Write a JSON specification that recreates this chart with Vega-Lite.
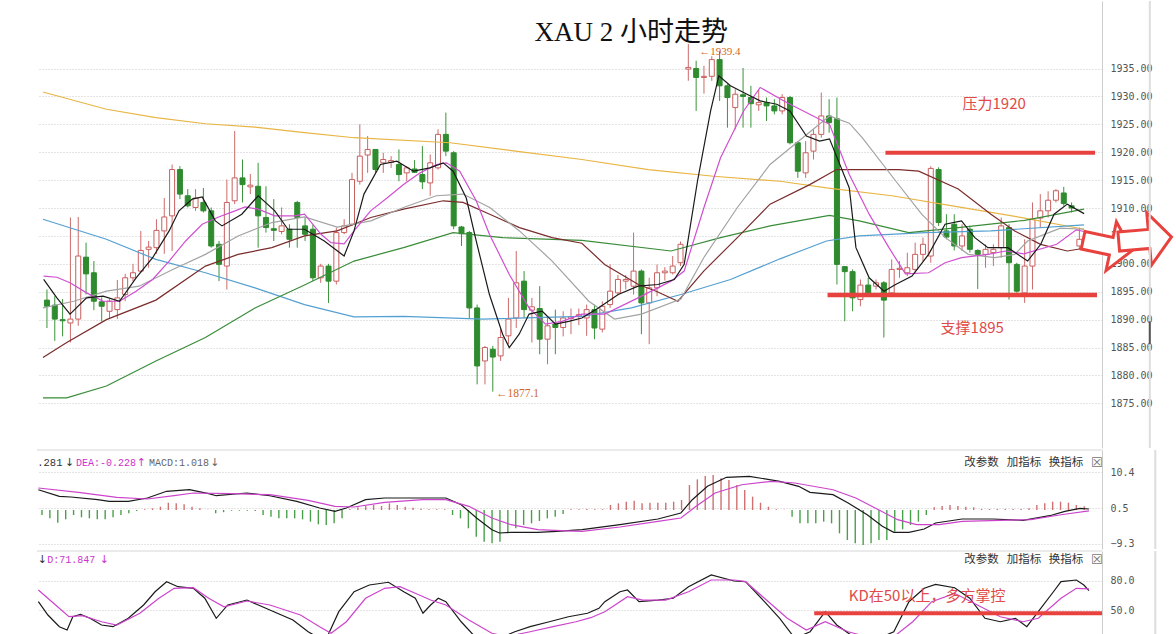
{
"$schema":"https://vega.github.io/schema/vega-lite/v6.json",
"padding":{"left":35,"top":0,"right":0,"bottom":0},
"spacing":0,
"background":"white",
"resolve":{"scale":{"color":"independent","strokeWidth":"independent"}},
"config":{"view":{"stroke":null},"axis":{"domainColor":"#cccccc","ticks":false,"labelOverlap":false,"labelFont":"DejaVu Sans Mono","labelFontSize":10,"labelColor":"#555555","labelPadding":8,"gridColor":"#c8c8c8","gridDash":[1,2],"gridWidth":1}},
"datasets":{
"one":[{}],
"candles":[
{"i":0,"o":1893.5,"h":1895.4,"l":1888.5,"c":1892.4},{"i":1,"o":1892.6,"h":1894.2,"l":1886.2,"c":1890.1},{"i":2,"o":1890.0,"h":1893.7,"l":1887.0,"c":1889.8},{"i":3,"o":1889.4,"h":1908.3,"l":1885.9,"c":1890.1},{"i":4,"o":1890.1,"h":1908.4,"l":1888.9,"c":1901.4},{"i":5,"o":1901.2,"h":1903.8,"l":1894.5,"c":1898.2},{"i":6,"o":1898.4,"h":1900.5,"l":1891.7,"c":1893.3},{"i":7,"o":1893.2,"h":1894.0,"l":1889.7,"c":1892.4},{"i":8,"o":1891.5,"h":1893.7,"l":1890.3,"c":1893.3},{"i":9,"o":1891.8,"h":1897.1,"l":1890.1,"c":1893.9},
{"i":10,"o":1894.5,"h":1898.2,"l":1893.3,"c":1897.5},{"i":11,"o":1897.5,"h":1900.0,"l":1896.9,"c":1898.4},{"i":12,"o":1898.7,"h":1905.9,"l":1898.4,"c":1902.4},{"i":13,"o":1902.6,"h":1904.1,"l":1899.3,"c":1903.0},{"i":14,"o":1902.9,"h":1908.0,"l":1901.8,"c":1906.0},{"i":15,"o":1905.9,"h":1911.8,"l":1901.8,"c":1908.4},{"i":16,"o":1908.6,"h":1917.8,"l":1902.3,"c":1916.9},{"i":17,"o":1916.9,"h":1917.5,"l":1911.6,"c":1912.5},{"i":18,"o":1912.2,"h":1913.4,"l":1910.1,"c":1910.4},{"i":19,"o":1910.1,"h":1913.4,"l":1909.5,"c":1911.8},
{"i":20,"o":1911.0,"h":1913.6,"l":1909.2,"c":1909.5},{"i":21,"o":1909.5,"h":1910.1,"l":1902.9,"c":1903.2},{"i":22,"o":1903.5,"h":1904.1,"l":1896.9,"c":1899.9},{"i":23,"o":1899.6,"h":1915.1,"l":1895.4,"c":1911.0},{"i":24,"o":1911.3,"h":1923.8,"l":1910.7,"c":1915.4},{"i":25,"o":1915.4,"h":1918.7,"l":1911.0,"c":1914.2},{"i":26,"o":1913.8,"h":1916.1,"l":1912.5,"c":1914.1},{"i":27,"o":1913.9,"h":1918.1,"l":1902.9,"c":1908.6},{"i":28,"o":1908.3,"h":1913.9,"l":1905.6,"c":1906.5},{"i":29,"o":1906.3,"h":1911.6,"l":1904.1,"c":1906.0},
{"i":30,"o":1905.8,"h":1910.1,"l":1905.3,"c":1906.8},{"i":31,"o":1906.2,"h":1907.1,"l":1902.9,"c":1904.4},{"i":32,"o":1911.0,"h":1911.3,"l":1902.9,"c":1908.3},{"i":33,"o":1906.8,"h":1908.3,"l":1904.1,"c":1905.3},{"i":34,"o":1906.2,"h":1907.0,"l":1896.9,"c":1897.5},{"i":35,"o":1897.5,"h":1900.0,"l":1896.6,"c":1899.6},{"i":36,"o":1899.6,"h":1900.0,"l":1893.0,"c":1896.9},{"i":37,"o":1896.9,"h":1906.5,"l":1896.3,"c":1905.6},{"i":38,"o":1905.6,"h":1908.0,"l":1905.3,"c":1906.8},{"i":39,"o":1907.1,"h":1916.3,"l":1906.8,"c":1915.1},
{"i":40,"o":1914.8,"h":1925.0,"l":1914.2,"c":1919.3},{"i":41,"o":1919.5,"h":1922.9,"l":1916.3,"c":1920.5},{"i":42,"o":1920.5,"h":1920.5,"l":1916.3,"c":1916.9},{"i":43,"o":1918.1,"h":1919.9,"l":1916.3,"c":1918.7},{"i":44,"o":1918.2,"h":1919.3,"l":1917.2,"c":1918.5},{"i":45,"o":1917.8,"h":1920.5,"l":1914.8,"c":1916.0},{"i":46,"o":1916.3,"h":1917.5,"l":1914.8,"c":1917.2},{"i":47,"o":1917.0,"h":1918.6,"l":1916.3,"c":1916.4},{"i":48,"o":1916.0,"h":1921.1,"l":1913.4,"c":1914.7},{"i":49,"o":1914.5,"h":1919.6,"l":1912.2,"c":1918.1},
{"i":50,"o":1917.2,"h":1924.1,"l":1916.9,"c":1923.2},{"i":51,"o":1923.2,"h":1927.1,"l":1919.3,"c":1920.2},{"i":52,"o":1919.9,"h":1920.2,"l":1906.2,"c":1906.8},{"i":53,"o":1906.6,"h":1906.8,"l":1903.2,"c":1905.4},{"i":54,"o":1905.6,"h":1905.9,"l":1890.3,"c":1892.1},{"i":55,"o":1892.1,"h":1892.7,"l":1878.4,"c":1881.7},{"i":56,"o":1882.6,"h":1885.3,"l":1878.4,"c":1885.0},{"i":57,"o":1884.7,"h":1885.3,"l":1877.1,"c":1883.3},{"i":58,"o":1883.5,"h":1888.3,"l":1882.6,"c":1886.8},{"i":59,"o":1887.1,"h":1893.9,"l":1885.6,"c":1890.1},
{"i":60,"o":1890.3,"h":1902.3,"l":1888.5,"c":1896.6},{"i":61,"o":1896.9,"h":1898.7,"l":1890.3,"c":1891.8},{"i":62,"o":1891.7,"h":1893.9,"l":1885.9,"c":1892.3},{"i":63,"o":1892.0,"h":1896.0,"l":1883.8,"c":1886.5},{"i":64,"o":1886.5,"h":1890.3,"l":1882.0,"c":1888.9},{"i":65,"o":1889.2,"h":1891.8,"l":1883.8,"c":1888.6},{"i":66,"o":1888.6,"h":1891.5,"l":1887.0,"c":1890.3},{"i":67,"o":1890.2,"h":1892.0,"l":1887.4,"c":1890.5},{"i":68,"o":1890.6,"h":1892.0,"l":1889.0,"c":1890.9},{"i":69,"o":1890.3,"h":1892.7,"l":1887.1,"c":1891.8},
{"i":70,"o":1891.8,"h":1892.7,"l":1886.5,"c":1888.5},{"i":71,"o":1888.3,"h":1893.3,"l":1887.7,"c":1892.4},{"i":72,"o":1892.7,"h":1899.9,"l":1892.1,"c":1895.1},{"i":73,"o":1894.8,"h":1898.0,"l":1894.5,"c":1897.2},{"i":74,"o":1896.9,"h":1898.0,"l":1895.4,"c":1897.2},{"i":75,"o":1896.0,"h":1905.6,"l":1894.5,"c":1898.7},{"i":76,"o":1898.7,"h":1899.0,"l":1887.4,"c":1893.0},{"i":77,"o":1893.0,"h":1897.5,"l":1885.6,"c":1895.7},{"i":78,"o":1895.7,"h":1899.9,"l":1894.2,"c":1898.4},{"i":79,"o":1898.4,"h":1899.4,"l":1897.0,"c":1898.7},
{"i":80,"o":1898.4,"h":1901.4,"l":1898.1,"c":1899.6},{"i":81,"o":1900.2,"h":1904.0,"l":1899.6,"c":1903.5},{"i":82,"o":1934.9,"h":1939.4,"l":1932.8,"c":1935.2},{"i":83,"o":1935.0,"h":1936.4,"l":1927.4,"c":1933.4},{"i":84,"o":1933.4,"h":1935.5,"l":1930.5,"c":1933.6},{"i":85,"o":1933.6,"h":1937.2,"l":1932.8,"c":1936.6},{"i":86,"o":1936.6,"h":1938.1,"l":1929.2,"c":1931.9},{"i":87,"o":1931.9,"h":1932.2,"l":1924.4,"c":1929.8},{"i":88,"o":1928.0,"h":1931.3,"l":1924.1,"c":1930.4},{"i":89,"o":1930.3,"h":1935.1,"l":1924.4,"c":1930.0},
{"i":90,"o":1929.8,"h":1931.9,"l":1924.4,"c":1928.7},{"i":91,"o":1928.5,"h":1931.3,"l":1927.4,"c":1928.9},{"i":92,"o":1928.9,"h":1929.8,"l":1925.6,"c":1928.3},{"i":93,"o":1928.3,"h":1929.5,"l":1926.8,"c":1927.4},{"i":94,"o":1927.4,"h":1930.4,"l":1926.8,"c":1929.8},{"i":95,"o":1929.8,"h":1930.1,"l":1921.4,"c":1921.7},{"i":96,"o":1921.7,"h":1922.0,"l":1915.4,"c":1916.6},{"i":97,"o":1916.3,"h":1922.0,"l":1915.4,"c":1919.9},{"i":98,"o":1920.2,"h":1924.1,"l":1918.7,"c":1923.2},{"i":99,"o":1923.2,"h":1930.7,"l":1922.6,"c":1926.5},
{"i":100,"o":1926.5,"h":1929.5,"l":1923.5,"c":1925.3},{"i":101,"o":1926.0,"h":1929.8,"l":1896.3,"c":1899.9},{"i":102,"o":1899.5,"h":1899.6,"l":1889.7,"c":1898.6},{"i":103,"o":1898.6,"h":1899.0,"l":1891.5,"c":1893.9},{"i":104,"o":1893.6,"h":1897.2,"l":1892.4,"c":1896.2},{"i":105,"o":1896.2,"h":1897.5,"l":1894.1,"c":1894.8},{"i":106,"o":1896.0,"h":1897.2,"l":1895.4,"c":1896.6},{"i":107,"o":1896.6,"h":1896.9,"l":1886.8,"c":1893.5},{"i":108,"o":1894.8,"h":1900.8,"l":1894.5,"c":1899.0},{"i":109,"o":1899.0,"h":1900.5,"l":1897.5,"c":1899.2},
{"i":110,"o":1898.4,"h":1902.0,"l":1897.8,"c":1899.3},{"i":111,"o":1899.0,"h":1903.8,"l":1898.4,"c":1901.7},{"i":112,"o":1901.7,"h":1904.7,"l":1900.5,"c":1903.5},{"i":113,"o":1901.4,"h":1917.5,"l":1900.2,"c":1917.1},{"i":114,"o":1916.9,"h":1917.3,"l":1906.8,"c":1907.4},{"i":115,"o":1905.9,"h":1908.9,"l":1904.4,"c":1904.8},{"i":116,"o":1907.1,"h":1908.9,"l":1902.4,"c":1903.2},{"i":117,"o":1903.2,"h":1907.1,"l":1902.3,"c":1905.0},{"i":118,"o":1906.2,"h":1906.8,"l":1902.0,"c":1902.6},{"i":119,"o":1902.4,"h":1902.6,"l":1895.5,"c":1901.7},
{"i":120,"o":1901.7,"h":1903.5,"l":1899.3,"c":1902.6},{"i":121,"o":1902.0,"h":1903.5,"l":1899.6,"c":1902.6},{"i":122,"o":1902.9,"h":1908.3,"l":1901.1,"c":1906.8},{"i":123,"o":1906.5,"h":1907.1,"l":1893.6,"c":1900.2},{"i":124,"o":1899.9,"h":1900.2,"l":1894.8,"c":1895.1},{"i":125,"o":1894.8,"h":1904.4,"l":1893.0,"c":1899.6},{"i":126,"o":1899.6,"h":1911.0,"l":1895.4,"c":1908.0},{"i":127,"o":1908.2,"h":1912.5,"l":1906.5,"c":1909.5},{"i":128,"o":1909.5,"h":1913.0,"l":1908.3,"c":1911.4},{"i":129,"o":1911.4,"h":1913.4,"l":1911.0,"c":1913.1},
{"i":130,"o":1912.7,"h":1913.8,"l":1910.4,"c":1910.8},{"i":131,"o":1910.4,"h":1911.0,"l":1909.2,"c":1910.0},{"i":132,"o":1903.2,"h":1906.5,"l":1902.6,"c":1904.4}
],
"ma":[
{"s":"MA250","i":-0.51,"v":1930.8},{"s":"MA250","i":7.6,"v":1927.7},{"s":"MA250","i":13.93,"v":1926.2},{"s":"MA250","i":20.26,"v":1925.1},{"s":"MA250","i":26.6,"v":1924.5},{"s":"MA250","i":32.93,"v":1923.5},{"s":"MA250","i":39.26,"v":1922.6},{"s":"MA250","i":51.55,"v":1921.7},{"s":"MA250","i":59.9,"v":1920.2},{"s":"MA250","i":68.39,"v":1918.7},{"s":"MA250","i":76.87,"v":1916.9},{"s":"MA250","i":85.23,"v":1915.7},{"s":"MA250","i":93.72,"v":1914.8},{"s":"MA250","i":99.67,"v":1913.6},{"s":"MA250","i":108.03,"v":1912.2},{"s":"MA250","i":116.51,"v":1910.2},{"s":"MA250","i":125.0,"v":1908.2},{"s":"MA250","i":132.6,"v":1906.2},
{"s":"MA120","i":-0.51,"v":1908.0},{"s":"MA120","i":7.6,"v":1904.4},{"s":"MA120","i":13.93,"v":1900.8},{"s":"MA120","i":20.26,"v":1898.4},{"s":"MA120","i":26.6,"v":1895.7},{"s":"MA120","i":32.93,"v":1892.7},{"s":"MA120","i":39.26,"v":1890.5},{"s":"MA120","i":45.59,"v":1890.6},{"s":"MA120","i":55.72,"v":1890.1},{"s":"MA120","i":68.39,"v":1890.6},{"s":"MA120","i":74.72,"v":1892.1},{"s":"MA120","i":81.05,"v":1894.5},{"s":"MA120","i":87.39,"v":1897.2},{"s":"MA120","i":93.72,"v":1900.9},{"s":"MA120","i":99.67,"v":1904.1},{"s":"MA120","i":103.85,"v":1905.0},{"s":"MA120","i":112.34,"v":1905.6},{"s":"MA120","i":120.69,"v":1905.9},{"s":"MA120","i":132.6,"v":1907.0},
{"s":"MA60","i":-0.51,"v":1876.0},{"s":"MA60","i":2.53,"v":1876.0},{"s":"MA60","i":7.6,"v":1878.1},{"s":"MA60","i":13.93,"v":1882.6},{"s":"MA60","i":20.26,"v":1886.8},{"s":"MA60","i":26.6,"v":1892.1},{"s":"MA60","i":32.93,"v":1896.2},{"s":"MA60","i":39.26,"v":1900.5},{"s":"MA60","i":45.59,"v":1902.9},{"s":"MA60","i":51.93,"v":1905.6},{"s":"MA60","i":58.26,"v":1904.7},{"s":"MA60","i":68.39,"v":1904.2},{"s":"MA60","i":79.79,"v":1902.3},{"s":"MA60","i":86.12,"v":1904.7},{"s":"MA60","i":92.45,"v":1906.8},{"s":"MA60","i":100.05,"v":1908.7},{"s":"MA60","i":103.85,"v":1907.7},{"s":"MA60","i":110.18,"v":1905.6},{"s":"MA60","i":116.51,"v":1906.5},{"s":"MA60","i":125.0,"v":1907.8},{"s":"MA60","i":132.6,"v":1909.8},
{"s":"MA30","i":-0.51,"v":1883.2},{"s":"MA30","i":2.53,"v":1885.9},{"s":"MA30","i":7.6,"v":1890.0},{"s":"MA30","i":13.93,"v":1893.5},{"s":"MA30","i":20.26,"v":1899.6},{"s":"MA30","i":24.44,"v":1901.7},{"s":"MA30","i":28.75,"v":1902.9},{"s":"MA30","i":32.93,"v":1905.0},{"s":"MA30","i":37.11,"v":1905.9},{"s":"MA30","i":41.41,"v":1908.3},{"s":"MA30","i":45.59,"v":1909.8},{"s":"MA30","i":50.66,"v":1911.3},{"s":"MA30","i":53.19,"v":1911.0},{"s":"MA30","i":56.61,"v":1908.9},{"s":"MA30","i":60.41,"v":1906.5},{"s":"MA30","i":64.59,"v":1904.7},{"s":"MA30","i":68.39,"v":1903.7},{"s":"MA30","i":71.3,"v":1899.9},{"s":"MA30","i":75.61,"v":1896.3},{"s":"MA30","i":77.89,"v":1895.1},{"s":"MA30","i":80.67,"v":1893.3},{"s":"MA30","i":83.97,"v":1898.7},{"s":"MA30","i":88.27,"v":1904.7},{"s":"MA30","i":92.45,"v":1910.7},{"s":"MA30","i":97.52,"v":1914.2},{"s":"MA30","i":100.94,"v":1916.9},{"s":"MA30","i":108.92,"v":1916.9},{"s":"MA30","i":111.45,"v":1916.6},{"s":"MA30","i":116.51,"v":1913.4},{"s":"MA30","i":120.69,"v":1908.9},{"s":"MA30","i":123.73,"v":1905.9},{"s":"MA30","i":127.03,"v":1903.5},{"s":"MA30","i":130.45,"v":1902.3},{"s":"MA30","i":132.6,"v":1902.8},
{"s":"MA20","i":-0.51,"v":1892.1},{"s":"MA20","i":3.42,"v":1893.3},{"s":"MA20","i":7.6,"v":1895.1},{"s":"MA20","i":11.78,"v":1896.0},{"s":"MA20","i":16.08,"v":1899.0},{"s":"MA20","i":20.26,"v":1901.7},{"s":"MA20","i":24.44,"v":1905.0},{"s":"MA20","i":28.75,"v":1907.4},{"s":"MA20","i":32.93,"v":1908.4},{"s":"MA20","i":37.11,"v":1906.6},{"s":"MA20","i":41.41,"v":1907.7},{"s":"MA20","i":45.59,"v":1910.1},{"s":"MA20","i":49.77,"v":1912.2},{"s":"MA20","i":53.19,"v":1912.5},{"s":"MA20","i":56.61,"v":1910.1},{"s":"MA20","i":60.41,"v":1905.9},{"s":"MA20","i":64.59,"v":1900.5},{"s":"MA20","i":69.28,"v":1893.3},{"s":"MA20","i":72.57,"v":1890.1},{"s":"MA20","i":76.01,"v":1891.0},{"s":"MA20","i":81.05,"v":1893.7},{"s":"MA20","i":83.97,"v":1901.1},{"s":"MA20","i":88.27,"v":1910.1},{"s":"MA20","i":92.45,"v":1917.8},{"s":"MA20","i":96.63,"v":1922.6},{"s":"MA20","i":100.05,"v":1926.5},{"s":"MA20","i":102.58,"v":1925.2},{"s":"MA20","i":104.23,"v":1922.6},{"s":"MA20","i":108.54,"v":1914.8},{"s":"MA20","i":111.83,"v":1908.9},{"s":"MA20","i":114.87,"v":1904.7},{"s":"MA20","i":117.78,"v":1901.7},{"s":"MA20","i":121.2,"v":1901.1},{"s":"MA20","i":123.73,"v":1901.7},{"s":"MA20","i":125.38,"v":1904.1},{"s":"MA20","i":129.56,"v":1906.4},{"s":"MA20","i":132.6,"v":1906.2},
{"s":"MA10","i":-0.42,"v":1897.8},{"s":"MA10","i":1.27,"v":1897.6},{"s":"MA10","i":2.95,"v":1896.6},{"s":"MA10","i":5.07,"v":1894.8},{"s":"MA10","i":7.18,"v":1893.3},{"s":"MA10","i":9.28,"v":1893.3},{"s":"MA10","i":11.4,"v":1895.1},{"s":"MA10","i":13.51,"v":1897.2},{"s":"MA10","i":15.62,"v":1900.5},{"s":"MA10","i":17.73,"v":1904.1},{"s":"MA10","i":19.85,"v":1907.1},{"s":"MA10","i":21.95,"v":1908.4},{"s":"MA10","i":24.06,"v":1909.5},{"s":"MA10","i":25.33,"v":1910.2},{"s":"MA10","i":27.01,"v":1909.8},{"s":"MA10","i":29.13,"v":1908.6},{"s":"MA10","i":31.66,"v":1908.6},{"s":"MA10","i":32.93,"v":1908.9},{"s":"MA10","i":35.04,"v":1905.3},{"s":"MA10","i":36.31,"v":1903.8},{"s":"MA10","i":37.99,"v":1903.6},{"s":"MA10","i":39.26,"v":1905.9},{"s":"MA10","i":41.38,"v":1909.5},{"s":"MA10","i":43.48,"v":1911.8},{"s":"MA10","i":45.59,"v":1914.2},{"s":"MA10","i":47.71,"v":1916.3},{"s":"MA10","i":49.81,"v":1917.8},{"s":"MA10","i":51.08,"v":1918.1},{"s":"MA10","i":52.77,"v":1916.6},{"s":"MA10","i":54.88,"v":1911.3},{"s":"MA10","i":56.57,"v":1905.3},{"s":"MA10","i":59.11,"v":1898.1},{"s":"MA10","i":61.64,"v":1892.1},{"s":"MA10","i":63.74,"v":1889.2},{"s":"MA10","i":65.86,"v":1889.7},{"s":"MA10","i":68.39,"v":1891.0},{"s":"MA10","i":71.34,"v":1891.0},{"s":"MA10","i":75.57,"v":1893.9},{"s":"MA10","i":79.79,"v":1896.9},{"s":"MA10","i":81.47,"v":1898.7},{"s":"MA10","i":84.0,"v":1910.1},{"s":"MA10","i":86.12,"v":1919.0},{"s":"MA10","i":89.07,"v":1927.4},{"s":"MA10","i":91.19,"v":1931.6},{"s":"MA10","i":94.57,"v":1928.9},{"s":"MA10","i":97.52,"v":1926.8},{"s":"MA10","i":100.05,"v":1925.0},{"s":"MA10","i":102.58,"v":1916.0},{"s":"MA10","i":105.12,"v":1908.9},{"s":"MA10","i":107.65,"v":1902.9},{"s":"MA10","i":109.76,"v":1898.2},{"s":"MA10","i":112.72,"v":1898.4},{"s":"MA10","i":114.83,"v":1900.2},{"s":"MA10","i":116.93,"v":1901.1},{"s":"MA10","i":120.31,"v":1901.7},{"s":"MA10","i":122.6,"v":1902.3},{"s":"MA10","i":124.9,"v":1901.8},{"s":"MA10","i":129.1,"v":1903.5},{"s":"MA10","i":131.6,"v":1906.1},{"s":"MA10","i":132.6,"v":1905.8},
{"s":"MA5","i":-0.42,"v":1897.2},{"s":"MA5","i":1.27,"v":1893.9},{"s":"MA5","i":2.95,"v":1891.0},{"s":"MA5","i":5.07,"v":1893.9},{"s":"MA5","i":7.18,"v":1894.2},{"s":"MA5","i":9.28,"v":1893.3},{"s":"MA5","i":11.4,"v":1897.5},{"s":"MA5","i":13.51,"v":1901.1},{"s":"MA5","i":15.62,"v":1905.9},{"s":"MA5","i":16.88,"v":1909.5},{"s":"MA5","i":18.58,"v":1911.6},{"s":"MA5","i":19.85,"v":1912.0},{"s":"MA5","i":21.53,"v":1907.7},{"s":"MA5","i":22.38,"v":1906.8},{"s":"MA5","i":24.91,"v":1908.9},{"s":"MA5","i":27.01,"v":1912.2},{"s":"MA5","i":29.13,"v":1909.5},{"s":"MA5","i":30.81,"v":1906.2},{"s":"MA5","i":32.93,"v":1906.2},{"s":"MA5","i":35.46,"v":1904.1},{"s":"MA5","i":37.99,"v":1901.4},{"s":"MA5","i":39.26,"v":1905.9},{"s":"MA5","i":40.53,"v":1912.5},{"s":"MA5","i":42.64,"v":1917.8},{"s":"MA5","i":44.74,"v":1918.4},{"s":"MA5","i":46.86,"v":1916.6},{"s":"MA5","i":48.97,"v":1917.2},{"s":"MA5","i":50.66,"v":1918.1},{"s":"MA5","i":51.93,"v":1916.6},{"s":"MA5","i":53.61,"v":1911.8},{"s":"MA5","i":54.88,"v":1904.1},{"s":"MA5","i":56.57,"v":1894.5},{"s":"MA5","i":58.26,"v":1887.4},{"s":"MA5","i":59.11,"v":1885.0},{"s":"MA5","i":60.37,"v":1887.4},{"s":"MA5","i":61.64,"v":1891.0},{"s":"MA5","i":63.32,"v":1891.5},{"s":"MA5","i":65.01,"v":1889.2},{"s":"MA5","i":66.71,"v":1889.7},{"s":"MA5","i":68.39,"v":1890.3},{"s":"MA5","i":70.5,"v":1892.1},{"s":"MA5","i":73.04,"v":1894.5},{"s":"MA5","i":75.57,"v":1896.0},{"s":"MA5","i":78.1,"v":1896.3},{"s":"MA5","i":80.21,"v":1897.2},{"s":"MA5","i":81.47,"v":1899.9},{"s":"MA5","i":83.17,"v":1914.8},{"s":"MA5","i":84.85,"v":1927.4},{"s":"MA5","i":85.9,"v":1933.7},{"s":"MA5","i":87.39,"v":1931.9},{"s":"MA5","i":89.5,"v":1930.4},{"s":"MA5","i":91.19,"v":1929.2},{"s":"MA5","i":93.3,"v":1928.6},{"s":"MA5","i":94.98,"v":1927.4},{"s":"MA5","i":97.1,"v":1922.9},{"s":"MA5","i":98.78,"v":1922.0},{"s":"MA5","i":100.05,"v":1922.4},{"s":"MA5","i":102.58,"v":1913.6},{"s":"MA5","i":103.43,"v":1902.9},{"s":"MA5","i":105.12,"v":1897.5},{"s":"MA5","i":107.02,"v":1895.1},{"s":"MA5","i":108.5,"v":1896.3},{"s":"MA5","i":110.6,"v":1897.8},{"s":"MA5","i":112.72,"v":1901.7},{"s":"MA5","i":114.83,"v":1907.1},{"s":"MA5","i":116.93,"v":1907.7},{"s":"MA5","i":118.63,"v":1904.7},{"s":"MA5","i":120.31,"v":1902.9},{"s":"MA5","i":122.85,"v":1902.9},{"s":"MA5","i":125.38,"v":1900.5},{"s":"MA5","i":127.06,"v":1903.5},{"s":"MA5","i":128.76,"v":1908.9},{"s":"MA5","i":130.45,"v":1910.7},{"s":"MA5","i":132.6,"v":1909.0}
],
"hist":[
{"i":0,"m":-1.37},{"i":1,"m":-2.28},{"i":2,"m":-3.46},{"i":3,"m":-2.55},{"i":4,"m":-1.37},{"i":5,"m":-2.0},{"i":6,"m":-2.28},{"i":7,"m":-2.55},{"i":8,"m":-2.55},{"i":9,"m":-2.0},{"i":10,"m":-1.37},{"i":11,"m":-0.91},{"i":12,"m":-0.27},{"i":13,"m":0.2},{"i":14,"m":0.46},{"i":15,"m":0.91},{"i":16,"m":2.0},{"i":17,"m":1.82},{"i":18,"m":1.55},{"i":19,"m":0.91},{"i":20,"m":0.46},{"i":21,"m":0.1},{"i":22,"m":-0.9},{"i":23,"m":-0.6},{"i":24,"m":-0.2},{"i":25,"m":-0.2},{"i":26,"m":-0.2},{"i":27,"m":-0.3},{"i":28,"m":-1.37},{"i":29,"m":-1.82},{"i":30,"m":-2.28},{"i":31,"m":-2.28},{"i":32,"m":-2.28},{"i":33,"m":-2.55},{"i":34,"m":-3.19},{"i":35,"m":-3.92},{"i":36,"m":-4.1},{"i":37,"m":-3.65},{"i":38,"m":-2.28},{"i":39,"m":0.3},{"i":40,"m":0.73},{"i":41,"m":1.09},{"i":42,"m":1.37},{"i":43,"m":1.09},{"i":44,"m":1.82},{"i":45,"m":1.37},{"i":46,"m":0.91},{"i":47,"m":0.64},{"i":48,"m":0.36},{"i":49,"m":0.2},{"i":50,"m":0.2},{"i":51,"m":0.2},{"i":52,"m":-1.37},{"i":53,"m":-2.28},{"i":54,"m":-5.01},{"i":55,"m":-7.29},{"i":56,"m":-8.66},{"i":57,"m":-9.12},{"i":58,"m":-8.66},{"i":59,"m":-6.38},{"i":60,"m":-5.01},{"i":61,"m":-4.1},{"i":62,"m":-3.65},{"i":63,"m":-3.0},{"i":64,"m":-2.28},{"i":65,"m":-1.82},{"i":66,"m":-1.09},{"i":67,"m":0.2},{"i":68,"m":0.2},{"i":69,"m":0.27},{"i":70,"m":0.2},{"i":71,"m":0.2},{"i":72,"m":1.37},{"i":73,"m":1.82},{"i":74,"m":2.28},{"i":75,"m":2.55},{"i":76,"m":1.82},{"i":77,"m":2.0},{"i":78,"m":2.0},{"i":79,"m":2.0},{"i":80,"m":2.28},{"i":81,"m":2.73},{"i":82,"m":6.84},{"i":83,"m":8.39},{"i":84,"m":9.3},{"i":85,"m":9.57},{"i":86,"m":8.66},{"i":87,"m":8.2},{"i":88,"m":6.84},{"i":89,"m":5.47},{"i":90,"m":3.65},{"i":91,"m":2.0},{"i":92,"m":0.91},{"i":93,"m":0.2},{"i":94,"m":0.1},{"i":95,"m":-1.82},{"i":96,"m":-3.65},{"i":97,"m":-3.65},{"i":98,"m":-3.65},{"i":99,"m":-3.19},{"i":100,"m":-3.65},{"i":101,"m":-6.38},{"i":102,"m":-8.2},{"i":103,"m":-9.12},{"i":104,"m":-9.57},{"i":105,"m":-9.12},{"i":106,"m":-8.2},{"i":107,"m":-8.2},{"i":108,"m":-5.93},{"i":109,"m":-5.29},{"i":110,"m":-4.1},{"i":111,"m":-3.19},{"i":112,"m":-1.37},{"i":113,"m":0.73},{"i":114,"m":1.09},{"i":115,"m":1.37},{"i":116,"m":1.09},{"i":117,"m":0.91},{"i":118,"m":0.73},{"i":119,"m":0.3},{"i":120,"m":0.27},{"i":121,"m":0.27},{"i":122,"m":0.27},{"i":123,"m":0.27},{"i":124,"m":0.27},{"i":125,"m":0.46},{"i":126,"m":1.37},{"i":127,"m":1.82},{"i":128,"m":2.28},{"i":129,"m":2.28},{"i":130,"m":2.0},{"i":131,"m":1.37},{"i":132,"m":1.02}
],
"macd":[
{"s":"DIF","i":-0.46,"v":5.55},{"s":"DIF","i":2.2,"v":3.75},{"s":"DIF","i":3.66,"v":3.56},{"s":"DIF","i":7.05,"v":2.82},{"s":"DIF","i":8.51,"v":2.38},{"s":"DIF","i":10.93,"v":2.38},{"s":"DIF","i":13.35,"v":3.28},{"s":"DIF","i":15.78,"v":5.12},{"s":"DIF","i":18.68,"v":5.55},{"s":"DIF","i":21.11,"v":4.46},{"s":"DIF","i":22.07,"v":3.91},{"s":"DIF","i":25.95,"v":4.65},{"s":"DIF","i":28.86,"v":3.91},{"s":"DIF","i":32.26,"v":2.38},{"s":"DIF","i":35.16,"v":0.55},{"s":"DIF","i":37.11,"v":-0.36},{"s":"DIF","i":38.55,"v":0.55},{"s":"DIF","i":40.98,"v":2.82},{"s":"DIF","i":43.4,"v":3.28},{"s":"DIF","i":48.25,"v":3.28},{"s":"DIF","i":51.15,"v":3.28},{"s":"DIF","i":53.09,"v":1.45},{"s":"DIF","i":55.04,"v":-2.19},{"s":"DIF","i":56.98,"v":-5.39},{"s":"DIF","i":57.94,"v":-6.29},{"s":"DIF","i":59.4,"v":-6.1},{"s":"DIF","i":62.79,"v":-6.1},{"s":"DIF","i":65.21,"v":-5.83},{"s":"DIF","i":68.39,"v":-5.39},{"s":"DIF","i":73.2,"v":-4.02},{"s":"DIF","i":78.01,"v":-2.46},{"s":"DIF","i":80.91,"v":-0.82},{"s":"DIF","i":82.36,"v":2.82},{"s":"DIF","i":84.28,"v":6.48},{"s":"DIF","i":86.69,"v":8.95},{"s":"DIF","i":89.58,"v":9.22},{"s":"DIF","i":93.43,"v":7.85},{"s":"DIF","i":95.83,"v":6.48},{"s":"DIF","i":97.27,"v":4.84},{"s":"DIF","i":100.18,"v":4.19},{"s":"DIF","i":102.1,"v":1.92},{"s":"DIF","i":104.51,"v":-1.29},{"s":"DIF","i":106.43,"v":-4.46},{"s":"DIF","i":107.88,"v":-6.1},{"s":"DIF","i":109.8,"v":-6.1},{"s":"DIF","i":111.73,"v":-5.2},{"s":"DIF","i":113.17,"v":-3.56},{"s":"DIF","i":116.54,"v":-2.46},{"s":"DIF","i":120.39,"v":-2.46},{"s":"DIF","i":124.25,"v":-2.82},{"s":"DIF","i":127.62,"v":-1.56},{"s":"DIF","i":129.55,"v":-0.36},{"s":"DIF","i":131.47,"v":0.45},{"s":"DIF","i":132.6,"v":0.28},
{"s":"DEA","i":-0.46,"v":6.02},{"s":"DEA","i":4.62,"v":4.84},{"s":"DEA","i":9.47,"v":3.47},{"s":"DEA","i":13.35,"v":3.01},{"s":"DEA","i":16.74,"v":3.91},{"s":"DEA","i":19.17,"v":4.65},{"s":"DEA","i":24.01,"v":4.46},{"s":"DEA","i":28.86,"v":4.19},{"s":"DEA","i":33.71,"v":2.65},{"s":"DEA","i":37.11,"v":1.01},{"s":"DEA","i":39.53,"v":0.82},{"s":"DEA","i":43.4,"v":2.11},{"s":"DEA","i":48.25,"v":2.82},{"s":"DEA","i":51.15,"v":2.82},{"s":"DEA","i":54.07,"v":1.01},{"s":"DEA","i":56.98,"v":-2.19},{"s":"DEA","i":59.4,"v":-4.02},{"s":"DEA","i":62.79,"v":-5.39},{"s":"DEA","i":65.69,"v":-5.66},{"s":"DEA","i":68.39,"v":-5.83},{"s":"DEA","i":73.2,"v":-4.65},{"s":"DEA","i":78.01,"v":-3.09},{"s":"DEA","i":80.91,"v":-2.19},{"s":"DEA","i":82.84,"v":1.01},{"s":"DEA","i":85.25,"v":4.65},{"s":"DEA","i":88.61,"v":6.92},{"s":"DEA","i":92.46,"v":7.85},{"s":"DEA","i":95.35,"v":7.39},{"s":"DEA","i":100.18,"v":5.55},{"s":"DEA","i":103.07,"v":3.28},{"s":"DEA","i":105.95,"v":0.08},{"s":"DEA","i":108.36,"v":-2.65},{"s":"DEA","i":110.77,"v":-4.02},{"s":"DEA","i":113.65,"v":-4.02},{"s":"DEA","i":116.54,"v":-3.09},{"s":"DEA","i":121.37,"v":-2.82},{"s":"DEA","i":125.22,"v":-2.65},{"s":"DEA","i":129.06,"v":-1.29},{"s":"DEA","i":132.6,"v":-0.23}
],
"kd":[
{"s":"K","i":-0.46,"v":58.7},{"s":"K","i":0.75,"v":45.2},{"s":"K","i":2.2,"v":33.4},{"s":"K","i":3.18,"v":30.0},{"s":"K","i":3.9,"v":43.5},{"s":"K","i":4.88,"v":45.9},{"s":"K","i":6.08,"v":41.9},{"s":"K","i":7.54,"v":35.1},{"s":"K","i":8.99,"v":33.4},{"s":"K","i":10.93,"v":41.9},{"s":"K","i":12.87,"v":55.4},{"s":"K","i":14.32,"v":68.8},{"s":"K","i":15.78,"v":79.0},{"s":"K","i":17.22,"v":73.9},{"s":"K","i":19.17,"v":72.3},{"s":"K","i":20.62,"v":62.2},{"s":"K","i":22.07,"v":41.9},{"s":"K","i":23.53,"v":55.4},{"s":"K","i":25.95,"v":60.4},{"s":"K","i":28.86,"v":50.3},{"s":"K","i":31.78,"v":40.2},{"s":"K","i":33.71,"v":28.3},{"s":"K","i":35.16,"v":21.6},{"s":"K","i":36.13,"v":23.3},{"s":"K","i":37.59,"v":48.6},{"s":"K","i":39.53,"v":68.8},{"s":"K","i":41.46,"v":75.6},{"s":"K","i":43.88,"v":78.4},{"s":"K","i":45.82,"v":68.8},{"s":"K","i":47.28,"v":62.2},{"s":"K","i":48.25,"v":47.0},{"s":"K","i":49.22,"v":55.4},{"s":"K","i":50.19,"v":62.2},{"s":"K","i":51.15,"v":58.7},{"s":"K","i":53.09,"v":38.4},{"s":"K","i":55.04,"v":21.6},{"s":"K","i":57.94,"v":21.6},{"s":"K","i":59.88,"v":28.3},{"s":"K","i":61.82,"v":33.4},{"s":"K","i":64.25,"v":38.4},{"s":"K","i":66.67,"v":43.5},{"s":"K","i":69.09,"v":47.0},{"s":"K","i":70.54,"v":52.0},{"s":"K","i":71.28,"v":58.7},{"s":"K","i":73.2,"v":68.8},{"s":"K","i":74.16,"v":70.6},{"s":"K","i":75.61,"v":58.7},{"s":"K","i":78.01,"v":60.4},{"s":"K","i":79.95,"v":62.2},{"s":"K","i":81.88,"v":73.9},{"s":"K","i":84.76,"v":85.8},{"s":"K","i":87.65,"v":79.7},{"s":"K","i":89.1,"v":79.0},{"s":"K","i":91.5,"v":58.7},{"s":"K","i":93.43,"v":41.9},{"s":"K","i":95.35,"v":21.6},{"s":"K","i":97.28,"v":28.3},{"s":"K","i":99.2,"v":48.6},{"s":"K","i":100.66,"v":35.1},{"s":"K","i":103.06,"v":21.6},{"s":"K","i":105.95,"v":21.6},{"s":"K","i":107.88,"v":28.3},{"s":"K","i":109.8,"v":58.7},{"s":"K","i":111.73,"v":72.3},{"s":"K","i":113.17,"v":76.3},{"s":"K","i":115.58,"v":72.9},{"s":"K","i":117.5,"v":62.2},{"s":"K","i":119.43,"v":41.9},{"s":"K","i":121.37,"v":38.4},{"s":"K","i":123.29,"v":41.9},{"s":"K","i":124.73,"v":33.4},{"s":"K","i":126.18,"v":48.6},{"s":"K","i":128.1,"v":68.8},{"s":"K","i":129.06,"v":79.0},{"s":"K","i":131.0,"v":80.7},{"s":"K","i":131.95,"v":75.6},{"s":"K","i":132.6,"v":70.0},
{"s":"D","i":-0.46,"v":70.6},{"s":"D","i":1.72,"v":55.4},{"s":"D","i":3.42,"v":43.5},{"s":"D","i":5.12,"v":44.5},{"s":"D","i":7.54,"v":38.4},{"s":"D","i":9.47,"v":35.1},{"s":"D","i":12.39,"v":47.0},{"s":"D","i":14.81,"v":62.2},{"s":"D","i":16.74,"v":72.3},{"s":"D","i":19.17,"v":72.9},{"s":"D","i":21.11,"v":62.2},{"s":"D","i":23.05,"v":53.6},{"s":"D","i":25.95,"v":59.4},{"s":"D","i":28.86,"v":55.4},{"s":"D","i":32.74,"v":45.2},{"s":"D","i":35.16,"v":33.4},{"s":"D","i":36.61,"v":26.7},{"s":"D","i":38.55,"v":38.4},{"s":"D","i":40.98,"v":62.2},{"s":"D","i":43.4,"v":72.3},{"s":"D","i":45.34,"v":73.9},{"s":"D","i":47.28,"v":67.2},{"s":"D","i":49.22,"v":60.4},{"s":"D","i":51.15,"v":55.4},{"s":"D","i":54.07,"v":40.2},{"s":"D","i":56.98,"v":26.7},{"s":"D","i":58.92,"v":23.3},{"s":"D","i":61.82,"v":28.3},{"s":"D","i":64.73,"v":33.4},{"s":"D","i":67.63,"v":38.4},{"s":"D","i":69.5,"v":42.5},{"s":"D","i":71.28,"v":48.6},{"s":"D","i":74.16,"v":63.8},{"s":"D","i":76.09,"v":60.4},{"s":"D","i":78.99,"v":60.4},{"s":"D","i":81.88,"v":68.8},{"s":"D","i":84.76,"v":80.7},{"s":"D","i":87.65,"v":80.7},{"s":"D","i":89.1,"v":79.0},{"s":"D","i":91.5,"v":62.2},{"s":"D","i":94.39,"v":41.9},{"s":"D","i":96.8,"v":30.0},{"s":"D","i":99.2,"v":38.4},{"s":"D","i":102.1,"v":28.3},{"s":"D","i":104.99,"v":22.2},{"s":"D","i":107.88,"v":23.3},{"s":"D","i":110.28,"v":38.4},{"s":"D","i":112.69,"v":58.7},{"s":"D","i":115.58,"v":67.2},{"s":"D","i":118.47,"v":55.4},{"s":"D","i":121.37,"v":43.5},{"s":"D","i":124.25,"v":38.4},{"s":"D","i":126.18,"v":41.9},{"s":"D","i":129.06,"v":62.2},{"s":"D","i":131.0,"v":72.3},{"s":"D","i":132.6,"v":71.8}
]
},
"vconcat":[
{
"width":1065,"height":447,
"layer":[
{"data":{"name":"candles"},"mark":{"type":"rule","strokeWidth":1},
 "encoding":{"x":{"field":"i","type":"quantitative","scale":{"domain":[-0.633,134.25],"nice":false,"zero":false},"axis":null},
 "y":{"field":"l","type":"quantitative","scale":{"domain":[1867.0,1947.1],"nice":false,"zero":false},"axis":{"orient":"right","values":[1875,1880,1885,1890,1895,1900,1905,1910,1915,1920,1925,1930,1935],"tickCount":30,"format":".2f","title":null,"grid":true,"labelOverlap":false}},
 "y2":{"field":"h"},
 "color":{"condition":{"test":"datum.c >= datum.o","value":"#cc6b6b"},"value":"#3a943a"}}},
{"data":{"name":"candles"},"mark":{"type":"bar","width":5,"strokeWidth":1},
 "encoding":{"x":{"field":"i","type":"quantitative","scale":{"domain":[-0.633,134.25],"nice":false,"zero":false},"axis":null},
 "y":{"field":"o","type":"quantitative","scale":{"domain":[1867.0,1947.1],"nice":false,"zero":false}},
 "y2":{"field":"c"},
 "fill":{"condition":{"test":"datum.c >= datum.o","value":"#ffffff"},"value":"#2e8b2e"},
 "stroke":{"condition":{"test":"datum.c >= datum.o","value":"#c85f5f"},"value":"#2e8b2e"}}},
{"data":{"name":"ma"},"mark":{"type":"line","interpolate":"linear"},
 "encoding":{"x":{"field":"i","type":"quantitative","scale":{"domain":[-0.633,134.25],"nice":false,"zero":false},"axis":null},
 "y":{"field":"v","type":"quantitative","scale":{"domain":[1867.0,1947.1],"nice":false,"zero":false}},
 "color":{"field":"s","type":"nominal","scale":{"domain":["MA250","MA120","MA60","MA30","MA20","MA10","MA5"],"range":["#e8b545","#55a0d2","#3a8c3a","#7b2c2c","#a3a3a3","#d04fd0","#1a1a1a"]},"legend":null},
 "strokeWidth":{"field":"s","type":"nominal","scale":{"domain":["MA250","MA120","MA60","MA30","MA20","MA10","MA5"],"range":[1.2,1.2,1,1,1,1.4,1.1]},"legend":null}}},
{"data":{"name":"one"},"mark":{"type":"rule","color":"#e8423f","strokeWidth":4},
 "encoding":{"x":{"datum":107.2,"type":"quantitative","scale":{"domain":[-0.633,134.25],"nice":false,"zero":false},"axis":null},"x2":{"datum":134.0},
 "y":{"datum":1919.9,"type":"quantitative","scale":{"domain":[1867.0,1947.1],"nice":false,"zero":false}}}},
{"data":{"name":"one"},"mark":{"type":"rule","color":"#e8423f","strokeWidth":4.5},
 "encoding":{"x":{"datum":99.8,"type":"quantitative","scale":{"domain":[-0.633,134.25],"nice":false,"zero":false},"axis":null},"x2":{"datum":134.25},
 "y":{"datum":1894.4,"type":"quantitative","scale":{"domain":[1867.0,1947.1],"nice":false,"zero":false}}}},
{"data":{"name":"one"},"mark":{"type":"text","text":"压力1920","font":"Noto Sans CJK SC","fontSize":15,"color":"#e04a48","align":"center","baseline":"middle"},
 "encoding":{"x":{"datum":121.1,"type":"quantitative","scale":{"domain":[-0.633,134.25],"nice":false,"zero":false},"axis":null},
 "y":{"datum":1928.6,"type":"quantitative","scale":{"domain":[1867.0,1947.1],"nice":false,"zero":false}}}},
{"data":{"name":"one"},"mark":{"type":"text","text":"支撑1895","font":"Noto Sans CJK SC","fontSize":15,"color":"#e04a48","align":"center","baseline":"middle"},
 "encoding":{"x":{"datum":118.3,"type":"quantitative","scale":{"domain":[-0.633,134.25],"nice":false,"zero":false},"axis":null},
 "y":{"datum":1888.5,"type":"quantitative","scale":{"domain":[1867.0,1947.1],"nice":false,"zero":false}}}},
{"data":{"name":"one"},"mark":{"type":"text","text":"XAU 2 小时走势","font":"Liberation Serif, Noto Sans CJK SC","fontSize":27,"color":"#111111","align":"center","baseline":"middle"},
 "encoding":{"x":{"datum":74.7,"type":"quantitative","scale":{"domain":[-0.633,134.25],"nice":false,"zero":false},"axis":null},
 "y":{"datum":1941.3,"type":"quantitative","scale":{"domain":[1867.0,1947.1],"nice":false,"zero":false}}}},
{"data":{"name":"one"},"mark":{"type":"text","text":"←1939.4","font":"Liberation Serif, DejaVu Sans","fontSize":11,"color":"#d2691e","align":"left","baseline":"middle"},
 "encoding":{"x":{"datum":83.4,"type":"quantitative","scale":{"domain":[-0.633,134.25],"nice":false,"zero":false},"axis":null},
 "y":{"datum":1937.9,"type":"quantitative","scale":{"domain":[1867.0,1947.1],"nice":false,"zero":false}}}},
{"data":{"name":"one"},"mark":{"type":"text","text":"←1877.1","font":"Liberation Serif, DejaVu Sans","fontSize":11.5,"color":"#d2691e","align":"left","baseline":"middle"},
 "encoding":{"x":{"datum":57.4,"type":"quantitative","scale":{"domain":[-0.633,134.25],"nice":false,"zero":false},"axis":null},
 "y":{"datum":1876.6,"type":"quantitative","scale":{"domain":[1867.0,1947.1],"nice":false,"zero":false}}}},
{"data":{"name":"one"},"mark":{"type":"point","shape":"M-1,-0.36L0.15,-0.36L0.15,-1L1,0L0.15,1L0.15,0.36L-1,0.36Z","size":2500,"filled":true,"fill":"#ffffff","stroke":"#e8423f","strokeWidth":3,"opacity":1,"angle":12},
 "encoding":{"x":{"datum":135.6,"type":"quantitative","scale":{"domain":[-0.633,134.25],"nice":false,"zero":false},"axis":null},
 "y":{"datum":1903.3,"type":"quantitative","scale":{"domain":[1867.0,1947.1],"nice":false,"zero":false}}}},
{"data":{"name":"one"},"mark":{"type":"point","shape":"M-1,-0.36L0.15,-0.36L0.15,-1L1,0L0.15,1L0.15,0.36L-1,0.36Z","size":2800,"filled":true,"fill":"#ffffff","stroke":"#e8423f","strokeWidth":3,"opacity":1,"angle":-5},
 "encoding":{"x":{"datum":140.4,"type":"quantitative","scale":{"domain":[-0.633,134.25],"nice":false,"zero":false},"axis":null},
 "y":{"datum":1904.4,"type":"quantitative","scale":{"domain":[1867.0,1947.1],"nice":false,"zero":false}}}},
{"data":{"name":"one"},"mark":{"type":"rule","color":"#dddddd","strokeWidth":2},
 "encoding":{"x":{"datum":141.0,"type":"quantitative","scale":{"domain":[-0.633,134.25],"nice":false,"zero":false},"axis":null}}},
{"data":{"name":"one"},"mark":{"type":"rule","color":"#555555","strokeWidth":2},
 "encoding":{"x":{"datum":141.0,"type":"quantitative","scale":{"domain":[-0.633,134.25],"nice":false,"zero":false},"axis":null},
 "y":{"datum":1889.7,"type":"quantitative","scale":{"domain":[1867.0,1947.1],"nice":false,"zero":false}},"y2":{"datum":1885.6}}}
]
},
{
"width":1065,"height":99,
"layer":[
{"data":{"name":"hist"},"mark":{"type":"rule","strokeWidth":1.4},
 "encoding":{"x":{"field":"i","type":"quantitative","scale":{"domain":[-0.633,134.25],"nice":false,"zero":false},"axis":null},
 "y":{"field":"m","type":"quantitative","scale":{"domain":[-10.67,16.42],"nice":false,"zero":false},"axis":{"orient":"right","values":[10.4,0.5,-9.3],"tickCount":10,"format":".1f","title":null,"grid":true,"labelOverlap":false}},
 "y2":{"datum":0},
 "color":{"condition":{"test":"datum.m >= 0","value":"#d07070"},"value":"#4aa04a"}}},
{"data":{"name":"macd"},"mark":{"type":"line","strokeWidth":1.2},
 "encoding":{"x":{"field":"i","type":"quantitative","scale":{"domain":[-0.633,134.25],"nice":false,"zero":false},"axis":null},
 "y":{"field":"v","type":"quantitative","scale":{"domain":[-10.67,16.42],"nice":false,"zero":false}},
 "color":{"field":"s","type":"nominal","scale":{"domain":["DEA","DIF"],"range":["#cc44cc","#1a1a1a"]},"legend":null}}},
{"data":{"name":"one"},"mark":{"type":"rule","color":"#d6d6d6","strokeWidth":1},
 "encoding":{"y":{"datum":16.42,"type":"quantitative","scale":{"domain":[-10.67,16.42],"nice":false,"zero":false}}}},
{"data":{"name":"one"},"mark":{"type":"text","text":".281","font":"Liberation Mono","fontSize":10.5,"color":"#333333","align":"left","baseline":"middle"},
 "encoding":{"x":{"datum":-0.6,"type":"quantitative","scale":{"domain":[-0.633,134.25],"nice":false,"zero":false},"axis":null},"y":{"datum":12.86,"type":"quantitative","scale":{"domain":[-10.67,16.42],"nice":false,"zero":false}}}},
{"data":{"name":"one"},"mark":{"type":"text","text":"↓","font":"DejaVu Sans","fontSize":11,"color":"#333333","align":"left","baseline":"middle"},
 "encoding":{"x":{"datum":2.9,"type":"quantitative","scale":{"domain":[-0.633,134.25],"nice":false,"zero":false},"axis":null},"y":{"datum":12.86,"type":"quantitative","scale":{"domain":[-10.67,16.42],"nice":false,"zero":false}}}},
{"data":{"name":"one"},"mark":{"type":"text","text":"DEA:-0.228","font":"Liberation Mono","fontSize":10,"color":"#cc33cc","align":"left","baseline":"middle"},
 "encoding":{"x":{"datum":4.3,"type":"quantitative","scale":{"domain":[-0.633,134.25],"nice":false,"zero":false},"axis":null},"y":{"datum":12.86,"type":"quantitative","scale":{"domain":[-10.67,16.42],"nice":false,"zero":false}}}},
{"data":{"name":"one"},"mark":{"type":"text","text":"↑","font":"DejaVu Sans","fontSize":11,"color":"#cc33cc","align":"left","baseline":"middle"},
 "encoding":{"x":{"datum":12.0,"type":"quantitative","scale":{"domain":[-0.633,134.25],"nice":false,"zero":false},"axis":null},"y":{"datum":12.86,"type":"quantitative","scale":{"domain":[-10.67,16.42],"nice":false,"zero":false}}}},
{"data":{"name":"one"},"mark":{"type":"text","text":"MACD:1.018","font":"Liberation Mono","fontSize":10,"color":"#666666","align":"left","baseline":"middle"},
 "encoding":{"x":{"datum":13.55,"type":"quantitative","scale":{"domain":[-0.633,134.25],"nice":false,"zero":false},"axis":null},"y":{"datum":12.86,"type":"quantitative","scale":{"domain":[-10.67,16.42],"nice":false,"zero":false}}}},
{"data":{"name":"one"},"mark":{"type":"text","text":"↓","font":"DejaVu Sans","fontSize":11,"color":"#666666","align":"left","baseline":"middle"},
 "encoding":{"x":{"datum":21.3,"type":"quantitative","scale":{"domain":[-0.633,134.25],"nice":false,"zero":false},"axis":null},"y":{"datum":12.86,"type":"quantitative","scale":{"domain":[-10.67,16.42],"nice":false,"zero":false}}}},
{"data":{"name":"one"},"mark":{"type":"text","text":"改参数","font":"Noto Sans CJK SC","fontSize":11.5,"color":"#333333","align":"left","baseline":"middle"},
 "encoding":{"x":{"datum":116.8,"type":"quantitative","scale":{"domain":[-0.633,134.25],"nice":false,"zero":false},"axis":null},"y":{"datum":12.86,"type":"quantitative","scale":{"domain":[-10.67,16.42],"nice":false,"zero":false}}}},
{"data":{"name":"one"},"mark":{"type":"text","text":"加指标","font":"Noto Sans CJK SC","fontSize":11.5,"color":"#333333","align":"left","baseline":"middle"},
 "encoding":{"x":{"datum":122.2,"type":"quantitative","scale":{"domain":[-0.633,134.25],"nice":false,"zero":false},"axis":null},"y":{"datum":12.86,"type":"quantitative","scale":{"domain":[-10.67,16.42],"nice":false,"zero":false}}}},
{"data":{"name":"one"},"mark":{"type":"text","text":"换指标","font":"Noto Sans CJK SC","fontSize":11.5,"color":"#333333","align":"left","baseline":"middle"},
 "encoding":{"x":{"datum":127.5,"type":"quantitative","scale":{"domain":[-0.633,134.25],"nice":false,"zero":false},"axis":null},"y":{"datum":12.86,"type":"quantitative","scale":{"domain":[-10.67,16.42],"nice":false,"zero":false}}}},
{"data":{"name":"one"},"mark":{"type":"text","text":"☒","font":"DejaVu Sans","fontSize":13,"color":"#777777","align":"center","baseline":"middle"},
 "encoding":{"x":{"datum":133.6,"type":"quantitative","scale":{"domain":[-0.633,134.25],"nice":false,"zero":false},"axis":null},"y":{"datum":12.86,"type":"quantitative","scale":{"domain":[-10.67,16.42],"nice":false,"zero":false}}}},
{"data":{"name":"one"},"mark":{"type":"rule","color":"#dddddd","strokeWidth":2},
 "encoding":{"x":{"datum":141.0,"type":"quantitative","scale":{"domain":[-0.633,134.25],"nice":false,"zero":false},"axis":null}}}
]
},
{
"width":1065,"height":94,
"layer":[
{"data":{"name":"kd"},"mark":{"type":"line","strokeWidth":1.2},
 "encoding":{"x":{"field":"i","type":"quantitative","scale":{"domain":[-0.633,134.25],"nice":false,"zero":false},"axis":null},
 "y":{"field":"v","type":"quantitative","scale":{"domain":[14.84,110.08],"nice":false,"zero":false},"axis":{"orient":"right","values":[20,50,80],"tickCount":10,"format":".1f","title":null,"grid":true,"labelOverlap":false}},
 "color":{"field":"s","type":"nominal","scale":{"domain":["D","K"],"range":["#cc44cc","#1a1a1a"]},"legend":null}}},
{"data":{"name":"one"},"mark":{"type":"rule","color":"#e8423f","strokeWidth":4},
 "encoding":{"x":{"datum":97.8,"type":"quantitative","scale":{"domain":[-0.633,134.25],"nice":false,"zero":false},"axis":null},"x2":{"datum":134.25},
 "y":{"datum":47.0,"type":"quantitative","scale":{"domain":[14.84,110.08],"nice":false,"zero":false}}}},
{"data":{"name":"one"},"mark":{"type":"text","text":"KD在50以上，多方掌控","font":"Noto Sans CJK SC","fontSize":15,"color":"#e04a48","align":"center","baseline":"middle"},
 "encoding":{"x":{"datum":112.1,"type":"quantitative","scale":{"domain":[-0.633,134.25],"nice":false,"zero":false},"axis":null},
 "y":{"datum":64.5,"type":"quantitative","scale":{"domain":[14.84,110.08],"nice":false,"zero":false}}}},
{"data":{"name":"one"},"mark":{"type":"rule","color":"#d6d6d6","strokeWidth":1},
 "encoding":{"y":{"datum":110.08,"type":"quantitative","scale":{"domain":[14.84,110.08],"nice":false,"zero":false}}}},
{"data":{"name":"one"},"mark":{"type":"text","text":"↓","font":"DejaVu Sans","fontSize":11,"color":"#333333","align":"left","baseline":"middle"},
 "encoding":{"x":{"datum":-0.55,"type":"quantitative","scale":{"domain":[-0.633,134.25],"nice":false,"zero":false},"axis":null},"y":{"datum":100.5,"type":"quantitative","scale":{"domain":[14.84,110.08],"nice":false,"zero":false}}}},
{"data":{"name":"one"},"mark":{"type":"text","text":"D:71.847","font":"Liberation Mono","fontSize":10,"color":"#cc33cc","align":"left","baseline":"middle"},
 "encoding":{"x":{"datum":0.65,"type":"quantitative","scale":{"domain":[-0.633,134.25],"nice":false,"zero":false},"axis":null},"y":{"datum":100.5,"type":"quantitative","scale":{"domain":[14.84,110.08],"nice":false,"zero":false}}}},
{"data":{"name":"one"},"mark":{"type":"text","text":"↓","font":"DejaVu Sans","fontSize":11,"color":"#cc33cc","align":"left","baseline":"middle"},
 "encoding":{"x":{"datum":7.3,"type":"quantitative","scale":{"domain":[-0.633,134.25],"nice":false,"zero":false},"axis":null},"y":{"datum":100.5,"type":"quantitative","scale":{"domain":[14.84,110.08],"nice":false,"zero":false}}}},
{"data":{"name":"one"},"mark":{"type":"text","text":"改参数","font":"Noto Sans CJK SC","fontSize":11.5,"color":"#333333","align":"left","baseline":"middle"},
 "encoding":{"x":{"datum":116.8,"type":"quantitative","scale":{"domain":[-0.633,134.25],"nice":false,"zero":false},"axis":null},"y":{"datum":100.5,"type":"quantitative","scale":{"domain":[14.84,110.08],"nice":false,"zero":false}}}},
{"data":{"name":"one"},"mark":{"type":"text","text":"加指标","font":"Noto Sans CJK SC","fontSize":11.5,"color":"#333333","align":"left","baseline":"middle"},
 "encoding":{"x":{"datum":122.2,"type":"quantitative","scale":{"domain":[-0.633,134.25],"nice":false,"zero":false},"axis":null},"y":{"datum":100.5,"type":"quantitative","scale":{"domain":[14.84,110.08],"nice":false,"zero":false}}}},
{"data":{"name":"one"},"mark":{"type":"text","text":"换指标","font":"Noto Sans CJK SC","fontSize":11.5,"color":"#333333","align":"left","baseline":"middle"},
 "encoding":{"x":{"datum":127.5,"type":"quantitative","scale":{"domain":[-0.633,134.25],"nice":false,"zero":false},"axis":null},"y":{"datum":100.5,"type":"quantitative","scale":{"domain":[14.84,110.08],"nice":false,"zero":false}}}},
{"data":{"name":"one"},"mark":{"type":"text","text":"☒","font":"DejaVu Sans","fontSize":13,"color":"#777777","align":"center","baseline":"middle"},
 "encoding":{"x":{"datum":133.6,"type":"quantitative","scale":{"domain":[-0.633,134.25],"nice":false,"zero":false},"axis":null},"y":{"datum":100.5,"type":"quantitative","scale":{"domain":[14.84,110.08],"nice":false,"zero":false}}}},
{"data":{"name":"one"},"mark":{"type":"rule","color":"#dddddd","strokeWidth":2},
 "encoding":{"x":{"datum":141.0,"type":"quantitative","scale":{"domain":[-0.633,134.25],"nice":false,"zero":false},"axis":null}}}
]
}
]
}
